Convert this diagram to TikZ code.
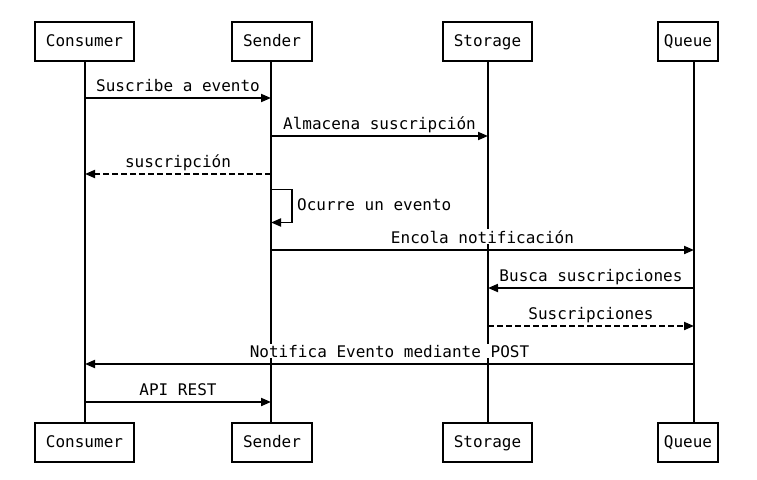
\documentclass[tikz,border=0pt]{standalone}
\usepackage{fontspec}
\setmonofont{DejaVu Sans Mono}
\usetikzlibrary{arrows.meta}
\begin{document}
\begin{tikzpicture}[x=1pt,y=-1pt,
  font=\ttfamily\fontsize{16}{19}\selectfont,
  actor/.style={draw,line width=2pt,minimum height=39pt,inner sep=0pt,fill=white,text height=11.7pt,text depth=0pt},
  life/.style={line width=2pt},
  msg/.style={line width=1.9pt,-{Triangle[length=10pt,width=8pt]}},
  reply/.style={msg,dash pattern=on 6pt off 3pt},
  lbl/.style={fill=white,inner xsep=1pt,inner ysep=1pt,anchor=base}]
\useasboundingbox (0,0) rectangle (757,479);
% lifeline x positions
\coordinate (Lc) at (85,0);
\coordinate (Ls) at (271,0);
\coordinate (Lt) at (488,0);
\coordinate (Lq) at (694,0);
% actor boxes
\node[actor,minimum width=99pt] (c1) at (84.5,41) {Consumer};
\node[actor,minimum width=80pt] (s1) at (272,41) {Sender};
\node[actor,minimum width=89pt] (t1) at (487.5,41) {Storage};
\node[actor,minimum width=60pt] (q1) at (688,41) {Queue};
\node[actor,minimum width=99pt] (c2) at (84.5,442) {Consumer};
\node[actor,minimum width=80pt] (s2) at (272,442) {Sender};
\node[actor,minimum width=89pt] (t2) at (487.5,442) {Storage};
\node[actor,minimum width=60pt] (q2) at (688,442) {Queue};
% lifelines
\draw[life] (Lc |- c1.south) -- (Lc |- c2.north);
\draw[life] (Ls |- s1.south) -- (Ls |- s2.north);
\draw[life] (Lt |- t1.south) -- (Lt |- t2.north);
\draw[life] (Lq |- q1.south) -- (Lq |- q2.north);
% messages
\draw[msg] (Lc |- 0,98) -- (Ls |- 0,98);
\node[lbl] (m1) at (178,91) {Suscribe a evento};
\draw[msg] (Ls |- 0,136) -- (Lt |- 0,136);
\node[lbl] (m2) at (379.5,129) {Almacena suscripción};
\draw[reply] (Ls |- 0,174) -- (Lc |- 0,174);
\node[lbl] (m3) at (178,167) {suscripción};
\draw[msg] (Ls |- 0,189.5) -- (292,189.5) -- (292,222.5) -- (Ls |- 0,222.5);
\node[lbl,anchor=base west] (m4) at (296,210) {Ocurre un evento};
\draw[msg] (Ls |- 0,250) -- (Lq |- 0,250);
\node[lbl] (m5) at (482.5,243) {Encola notificación};
\draw[msg] (Lq |- 0,288) -- (Lt |- 0,288);
\node[lbl] (m6) at (591,281) {Busca suscripciones};
\draw[reply] (Lt |- 0,326) -- (Lq |- 0,326);
\node[lbl] (m7) at (591,319) {Suscripciones};
\draw[msg] (Lq |- 0,364) -- (Lc |- 0,364);
\node[lbl] (m8) at (389.5,357) {Notifica Evento mediante POST};
\draw[msg] (Lc |- 0,402) -- (Ls |- 0,402);
\node[lbl] (m9) at (178,395) {API REST};
\end{tikzpicture}
\end{document}
